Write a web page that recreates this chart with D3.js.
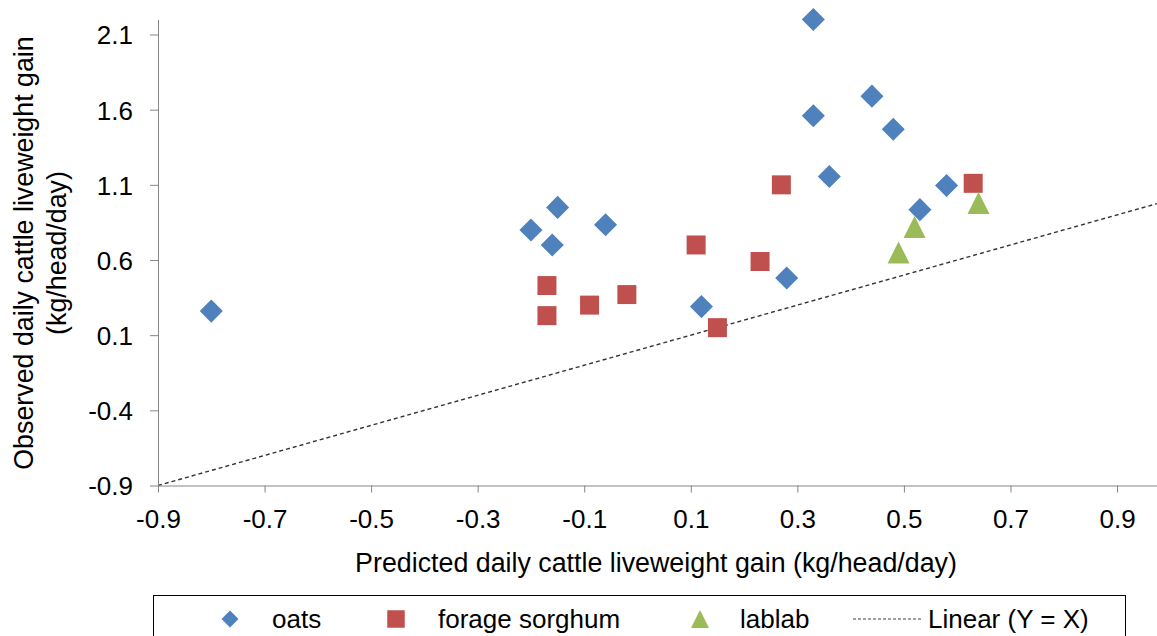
<!DOCTYPE html>
<html><head><meta charset="utf-8">
<script src="https://cdn.jsdelivr.net/npm/d3@7"></script>
<style>
html,body{margin:0;padding:0;background:#fff;}
svg{display:block;font-family:"Liberation Sans",Arial,sans-serif;}
</style></head>
<body><svg id="chart" width="1157" height="636"></svg>
<script>
// ---- data ----
const oatsX = [-0.80, -0.20, -0.15, -0.16, -0.06, 0.12, 0.28, 0.33, 0.44, 0.33, 0.48, 0.36, 0.58, 0.53];
const oatsY = [0.26, 0.80, 0.95, 0.70, 0.835, 0.29, 0.48, 2.20, 1.69, 1.56, 1.47, 1.155, 1.095, 0.935];
const sorghumX = [0.27, 0.11, 0.23, -0.17, -0.17, -0.09, -0.02, 0.15, 0.63];
const sorghumY = [1.10, 0.70, 0.59, 0.43, 0.23, 0.30, 0.37, 0.15, 1.11];
const lablabX = [0.64, 0.52, 0.49];
const lablabY = [0.98, 0.82, 0.65];
const xTicks = [-0.9, -0.7, -0.5, -0.3, -0.1, 0.1, 0.3, 0.5, 0.7, 0.9];
const yTicks = [-0.9, -0.4, 0.1, 0.6, 1.1, 1.6, 2.1];
const xDomain = [-0.9, 0.975];
const yDomain = [-0.9, 2.2];
const seriesNames = ["oats", "forage sorghum", "lablab", "Linear (Y = X)"];
const xTitle = "Predicted daily cattle liveweight gain (kg/head/day)";
const yTitle = ["Observed daily cattle liveweight gain", "(kg/head/day)"];

// ---- layout ----
const svg = d3.select("#chart");
const x = d3.scaleLinear().domain(xDomain).range([158, 1157]);
const y = d3.scaleLinear().domain(yDomain).range([485.5, 485.5 - 3.1 * 150.33]);
const axisColor = "#868686";
const fontSize = 26;

const colors = {oats: "#4F81BD", sorghum: "#C0504D", lablab: "#9BBB59"};

const fmt = d => d.toFixed(1);

// identity line Y = X
svg.append("line")
  .attr("x1", x(-0.9)).attr("y1", y(-0.9))
  .attr("x2", x(xDomain[1])).attr("y2", y(xDomain[1]))
  .attr("stroke", "#333").attr("stroke-width", 1.4)
  .attr("stroke-dasharray", "4,3");

// axes
const gx = svg.append("g").attr("transform", `translate(0,${y(-0.9)})`)
  .call(d3.axisBottom(x).tickValues(xTicks).tickFormat(fmt).tickSize(7).tickPadding(17).tickSizeOuter(0));
const gy = svg.append("g").attr("transform", `translate(${x(-0.9)},0)`)
  .call(d3.axisLeft(y).tickValues(yTicks).tickFormat(fmt).tickSize(8).tickPadding(17).tickSizeOuter(0));
[gx, gy].forEach(g => {
  g.select(".domain").attr("stroke", axisColor);
  g.selectAll(".tick line").attr("stroke", axisColor);
  g.selectAll(".tick text").attr("fill", "#000").style("font-size", fontSize + "px")
    .style("font-family", "'Liberation Sans',Arial,sans-serif");
});
gy.selectAll(".tick text").attr("dy", "0.36em");

// symbols
const tri = {draw(ctx, size){ const s = Math.sqrt(size); ctx.moveTo(0, -s/2); ctx.lineTo(s/2, s/2); ctx.lineTo(-s/2, s/2); ctx.closePath(); }};
const diamondPath = d3.symbol(d3.symbolSquare, 16.3 * 16.3)();
const squarePath = d3.symbol(d3.symbolSquare, 19 * 19)();
const triPath = d3.symbol(tri, 22 * 22)();

const plot = svg.append("g");
plot.selectAll("path.oats").data(d3.zip(oatsX, oatsY)).join("path")
  .attr("class", "oats").attr("d", diamondPath)
  .attr("transform", d => `translate(${x(d[0])},${y(d[1])}) rotate(45)`)
  .attr("fill", colors.oats);
plot.selectAll("path.sorghum").data(d3.zip(sorghumX, sorghumY)).join("path")
  .attr("class", "sorghum").attr("d", squarePath)
  .attr("transform", d => `translate(${x(d[0])},${y(d[1])})`)
  .attr("fill", colors.sorghum);
plot.selectAll("path.lablab").data(d3.zip(lablabX, lablabY)).join("path")
  .attr("class", "lablab").attr("d", triPath)
  .attr("transform", d => `translate(${x(d[0])},${y(d[1])})`)
  .attr("fill", colors.lablab);

// axis titles
svg.append("text").attr("x", 656).attr("y", 563).attr("text-anchor", "middle")
  .attr("dominant-baseline", "central").style("font-size", "26.8px").text(xTitle);
const yt = svg.append("text").attr("transform", "translate(24,253) rotate(-90)")
  .attr("text-anchor", "middle").style("font-size", "26.8px");
yt.append("tspan").attr("x", 0).attr("y", 0).attr("dominant-baseline", "central").text(yTitle[0]);
yt.append("tspan").attr("x", 0).attr("y", 33).attr("dominant-baseline", "central").text(yTitle[1]);

// legend
const lg = svg.append("g");
lg.append("rect").attr("x", 153.5).attr("y", 595.5).attr("width", 972).attr("height", 80)
  .attr("fill", "#fff").attr("stroke", "#000").attr("stroke-width", 1);
const ly = 619;
lg.append("path").attr("d", d3.symbol(d3.symbolSquare, 12 * 12)())
  .attr("transform", `translate(230,${ly}) rotate(45)`).attr("fill", colors.oats);
lg.append("path").attr("d", d3.symbol(d3.symbolSquare, 17.5 * 17.5)())
  .attr("transform", `translate(396,${ly})`).attr("fill", colors.sorghum);
lg.append("path").attr("d", d3.symbol(tri, 18 * 18)())
  .attr("transform", `translate(700,${ly})`).attr("fill", colors.lablab);
lg.append("line").attr("x1", 853).attr("x2", 923).attr("y1", ly).attr("y2", ly)
  .attr("stroke", "#404040").attr("stroke-width", 1.2).attr("stroke-dasharray", "3,2");
const lx = [272, 438, 740, 928];
seriesNames.forEach((n, i) => {
  lg.append("text").attr("x", lx[i]).attr("y", ly).attr("dominant-baseline", "central")
    .style("font-size", fontSize + "px").text(n);
});
</script></body></html>
